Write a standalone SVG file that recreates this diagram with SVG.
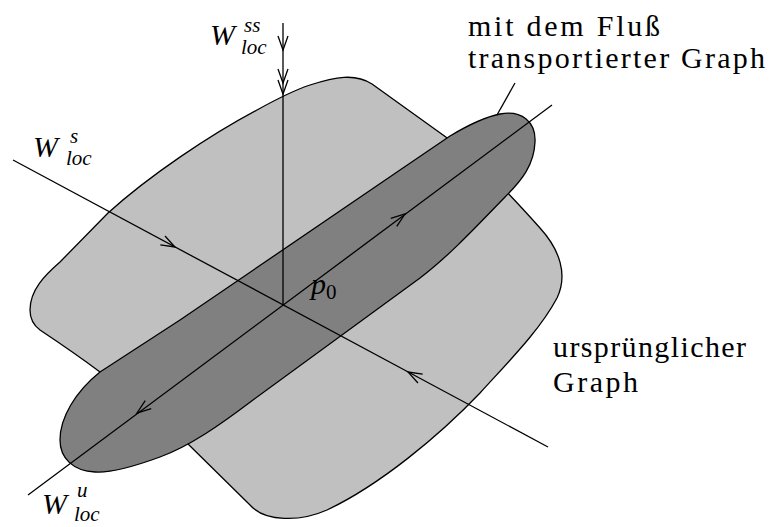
<svg xmlns="http://www.w3.org/2000/svg" width="770" height="527" viewBox="0 0 770 527">
<style>
.shape{stroke:#000;stroke-width:1.3;stroke-linejoin:round}
.ln{stroke:#000;stroke-width:1.3;fill:none}
text{fill:#000}
.sm{font-size:21px}
</style>
<defs>
<path id="ah" d="M -14,-5 L 0,0 L -14,5" fill="none" stroke="#000" stroke-width="1.3"/>
</defs>
<g id="original-graph">
<path class="shape" fill="#c0c0c0" d="M 30,310 C 30,290 45,275 60,262 L 108,213 C 150,175 210,135 257,110 C 275,100 295,90 310,85 C 335,77 355,73 372,84 L 450,140 C 475,158 515,200 540,228 C 560,250 568,275 557,298 C 540,330 510,360 480,393 C 440,435 380,485 327,510 C 300,522 265,522 250,505 L 187,443 L 100,372 C 80,357 55,340 40,330 C 32,324 30,316 30,310 Z"/>
</g>
<g id="transported-graph">
<path class="shape" fill="#808080" d="M 100,372 L 180,320 L 400,170 L 450,136 C 470,124 485,117 500,114 C 522,110 536,122 535,142 C 534,165 522,180 506,196 C 475,228 450,255 420,278 L 253,400 C 220,425 190,446 160,457 C 130,468 110,473 95,472 C 73,471 60,458 60,440 C 60,418 75,392 100,372 Z"/>
</g>
<g id="connectors">
<line class="ln" x1="283" y1="23" x2="283" y2="305"/>
<line class="ln" x1="13" y1="160" x2="548" y2="447"/>
<line class="ln" x1="28" y1="495" x2="552" y2="105"/>
<line class="ln" x1="515" y1="83" x2="497" y2="115"/>
<use href="#ah" transform="translate(283,50) rotate(90)"/>
<use href="#ah" transform="translate(283,83) rotate(90)"/>
<use href="#ah" transform="translate(283,94) rotate(90)"/>
<use href="#ah" transform="translate(175,247) rotate(28.2)"/>
<use href="#ah" transform="translate(408,372) rotate(208.2)"/>
<use href="#ah" transform="translate(405,214) rotate(-36.65)"/>
<use href="#ah" transform="translate(137,413) rotate(143.35)"/>
</g>
<g font-family="Liberation Serif, Tinos, Times New Roman, DejaVu Serif, serif" font-size="30">
<g id="label-wss" font-style="italic">
<text><tspan x="210" y="45">W</tspan><tspan class="sm" x="244" y="32">ss</tspan><tspan class="sm" x="241" y="54">loc</tspan></text>
</g>
<g id="label-ws" font-style="italic">
<text><tspan x="33" y="157">W</tspan><tspan class="sm" x="70" y="143">s</tspan><tspan class="sm" x="66" y="165">loc</tspan></text>
</g>
<g id="label-wu" font-style="italic">
<text><tspan x="42" y="514">W</tspan><tspan class="sm" x="77" y="497">u</tspan><tspan class="sm" x="74" y="521">loc</tspan></text>
</g>
<g id="label-p0">
<text><tspan font-style="italic" x="311" y="294">p</tspan><tspan class="sm" x="326" y="299">0</tspan></text>
</g>
<g id="label-transported">
<text x="468" y="36" textLength="192" lengthAdjust="spacing">mit dem Fluß</text>
<text x="468" y="68" textLength="297" lengthAdjust="spacing">transportierter Graph</text>
</g>
<g id="label-original">
<text x="553" y="357" textLength="193" lengthAdjust="spacing">ursprünglicher</text>
<text x="553" y="392" textLength="85" lengthAdjust="spacing">Graph</text>
</g>
</g>
</svg>
